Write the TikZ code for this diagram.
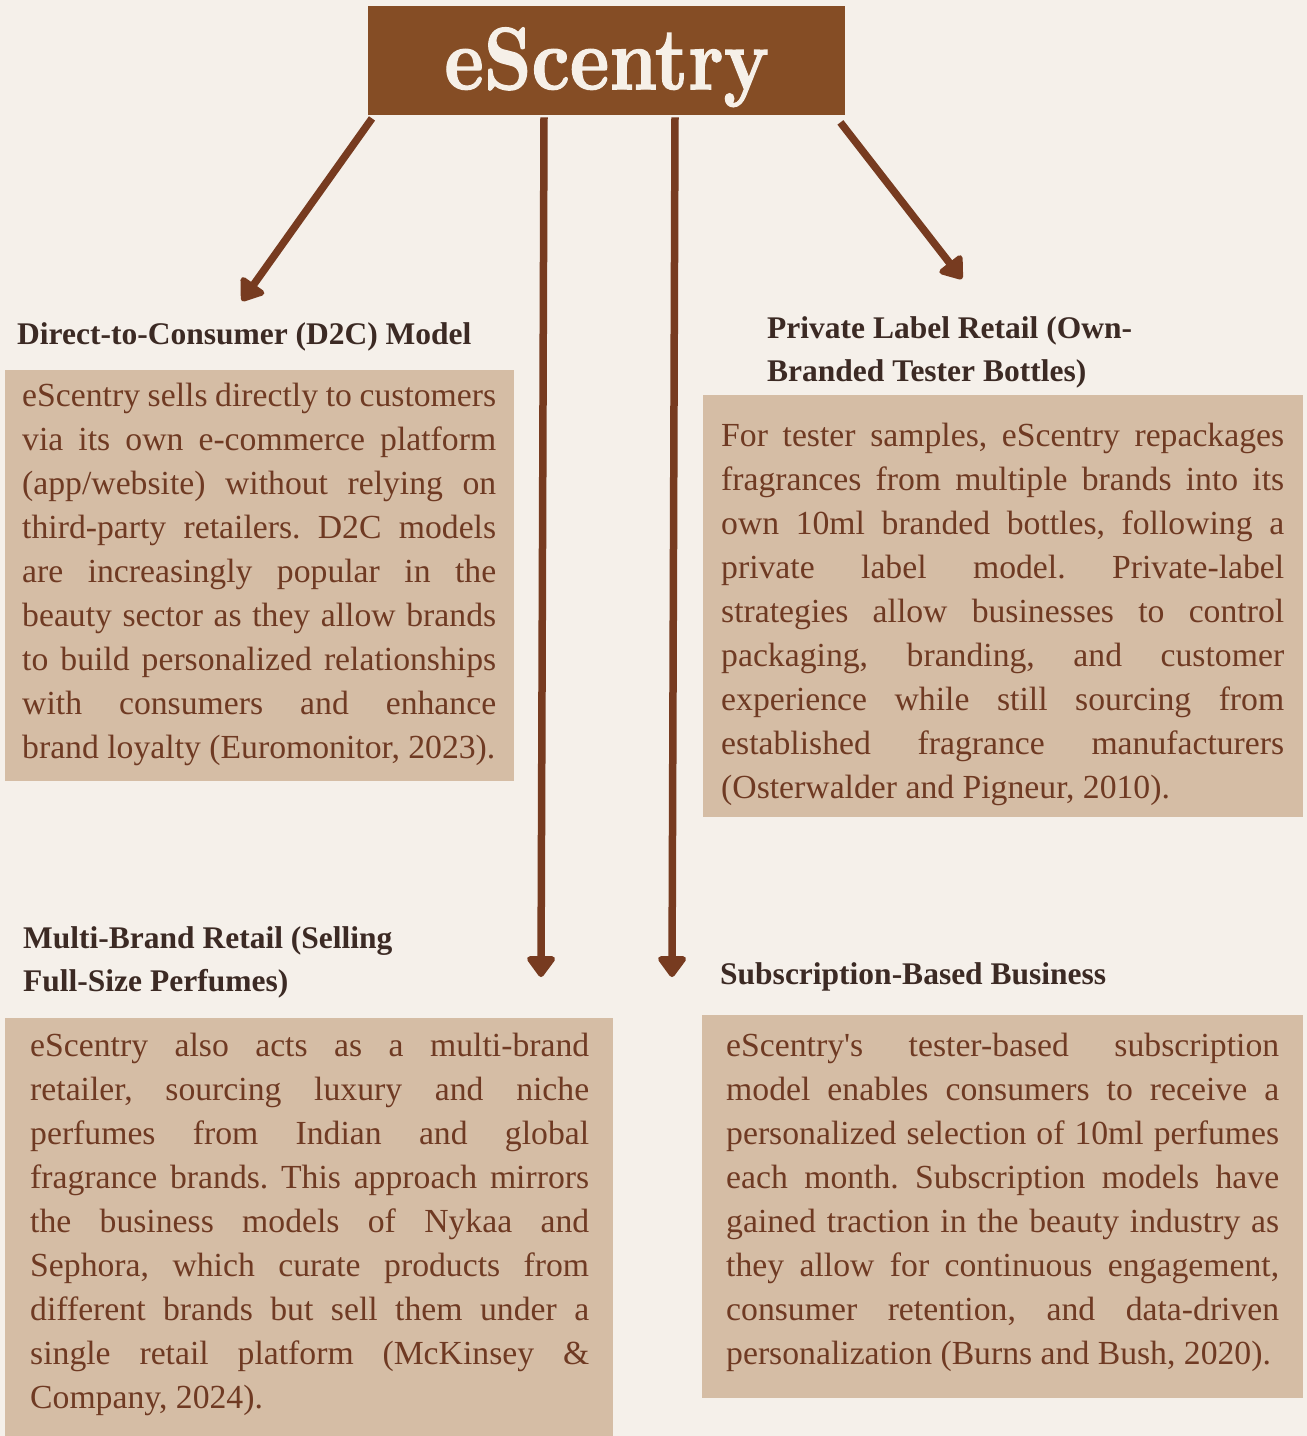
\documentclass[tikz,border=0pt]{standalone}
\usepackage{graphicx}
\usepackage{fontspec}
\newfontfamily\bodyfont{Liberation Serif}
\newfontfamily\titlefont{lmroman10-bold}[Extension=.otf,FakeBold=1.5]
\usetikzlibrary{arrows.meta,calc}

\definecolor{paper}{HTML}{F5F0EA}
\definecolor{brandbrown}{HTML}{854D25}
\definecolor{cream}{HTML}{F6F0E8}
\definecolor{panelfill}{HTML}{D5BDA5}
\definecolor{bodyink}{HTML}{6F3A23}
\definecolor{headink}{HTML}{3C2A24}
\definecolor{arrowink}{HTML}{773B20}

% one justified line of a panel, and the closing (ragged) line
\newcommand\fullln[1]{\hbox to\hsize{\strut#1}}
\newcommand\lastln[1]{\hbox{\strut#1}}
\frenchspacing

\begin{document}
\begin{tikzpicture}[x=1pt,y=-1pt,
  titlebox/.style={anchor=north west,fill=brandbrown,text=cream,inner sep=0pt,
    minimum width=477pt,text height=83pt,text depth=26pt,
    font=\titlefont\fontsize{85}{85}\selectfont},
  heading/.style={inner sep=0pt,text=headink,
    font=\bodyfont\fontsize{31.5}{43}\selectfont\bfseries},
  panel/.style={anchor=north west,fill=panelfill,inner sep=0pt},
  bodytext/.style={anchor=north west,inner sep=0pt,text=bodyink,
    font=\bodyfont\fontsize{33.7}{44}\selectfont},
  link/.style={draw=arrowink,line width=7.5pt,
    -{Triangle[length=23pt,width=32pt,round]}}
]
\useasboundingbox[fill=paper] (0,0) rectangle (1307,1436);

% title
\node[titlebox] (title) at (368,6) {\scalebox{0.88}[1.04]{eScentry}};

% panels
\node[panel,minimum width=509pt,minimum height=411pt] (d2cpanel) at (5,370) {};
\node[panel,minimum width=600pt,minimum height=422pt] (plpanel) at (703,395) {};
\node[panel,minimum width=608pt,minimum height=420pt] (mbpanel) at (5,1018) {};
\node[panel,minimum width=601pt,minimum height=383pt] (subpanel) at (702,1015) {};

% headings
\node[heading,anchor=base west] (d2chead) at (17,344) {Direct-to-Consumer (D2C) Model};
\node[heading,anchor=north west] (plhead) at (767,307.9)
  {\vbox{\lastln{Private Label Retail (Own-}\lastln{Branded Tester Bottles)}}};
\node[heading,anchor=north west] (mbhead) at (23,917.9)
  {\vbox{\lastln{Multi-Brand Retail (Selling}\lastln{Full-Size Perfumes)}}};
\node[heading,anchor=base west] (subhead) at (720,984) {Subscription-Based Business};

% panel texts
\node[bodytext] (d2ctext) at (22,375.2) {\vbox{\hsize=474pt
  \fullln{eScentry sells directly to customers}
  \fullln{via its own e-commerce platform}
  \fullln{(app/website) without relying on}
  \fullln{third-party retailers. D2C models}
  \fullln{are increasingly popular in the}
  \fullln{beauty sector as they allow brands}
  \fullln{to build personalized relationships}
  \fullln{with consumers and enhance}
  \lastln{brand loyalty (Euromonitor, 2023).}}};

\node[bodytext] (pltext) at (721,415.2) {\vbox{\hsize=563pt
  \fullln{For tester samples, eScentry repackages}
  \fullln{fragrances from multiple brands into its}
  \fullln{own 10ml branded bottles, following a}
  \fullln{private label model. Private-label}
  \fullln{strategies allow businesses to control}
  \fullln{packaging, branding, and customer}
  \fullln{experience while still sourcing from}
  \fullln{established fragrance manufacturers}
  \lastln{(Osterwalder and Pigneur, 2010).}}};

\node[bodytext] (mbtext) at (30,1025.2) {\vbox{\hsize=559pt
  \fullln{eScentry also acts as a multi-brand}
  \fullln{retailer, sourcing luxury and niche}
  \fullln{perfumes from Indian and global}
  \fullln{fragrance brands. This approach mirrors}
  \fullln{the business models of Nykaa and}
  \fullln{Sephora, which curate products from}
  \fullln{different brands but sell them under a}
  \fullln{single retail platform (McKinsey \&}
  \lastln{Company, 2024).}}};

\node[bodytext] (subtext) at (726,1025.2) {\vbox{\hsize=553pt
  \fullln{eScentry's tester-based subscription}
  \fullln{model enables consumers to receive a}
  \fullln{personalized selection of 10ml perfumes}
  \fullln{each month. Subscription models have}
  \fullln{gained traction in the beauty industry as}
  \fullln{they allow for continuous engagement,}
  \fullln{consumer retention, and data-driven}
  \lastln{personalization (Burns and Bush, 2020).}}};

% arrow ends
\coordinate (d2ctip) at (242,301);
\coordinate (pltip) at (962,279);
\coordinate (mbtip) at (541,977);
\coordinate (subtip) at (672,977);

% arrows out of the title
\draw[link] ($(title.south west)+(4,3)$) -- (d2ctip);
\draw[link] ($(title.south west)+(176,2)$) -- (mbtip);
\draw[link] ($(title.south west)+(307,2)$) -- (subtip);
\draw[link] ($(title.south east)+(-5,7)$) -- (pltip);
\end{tikzpicture}
\end{document}
